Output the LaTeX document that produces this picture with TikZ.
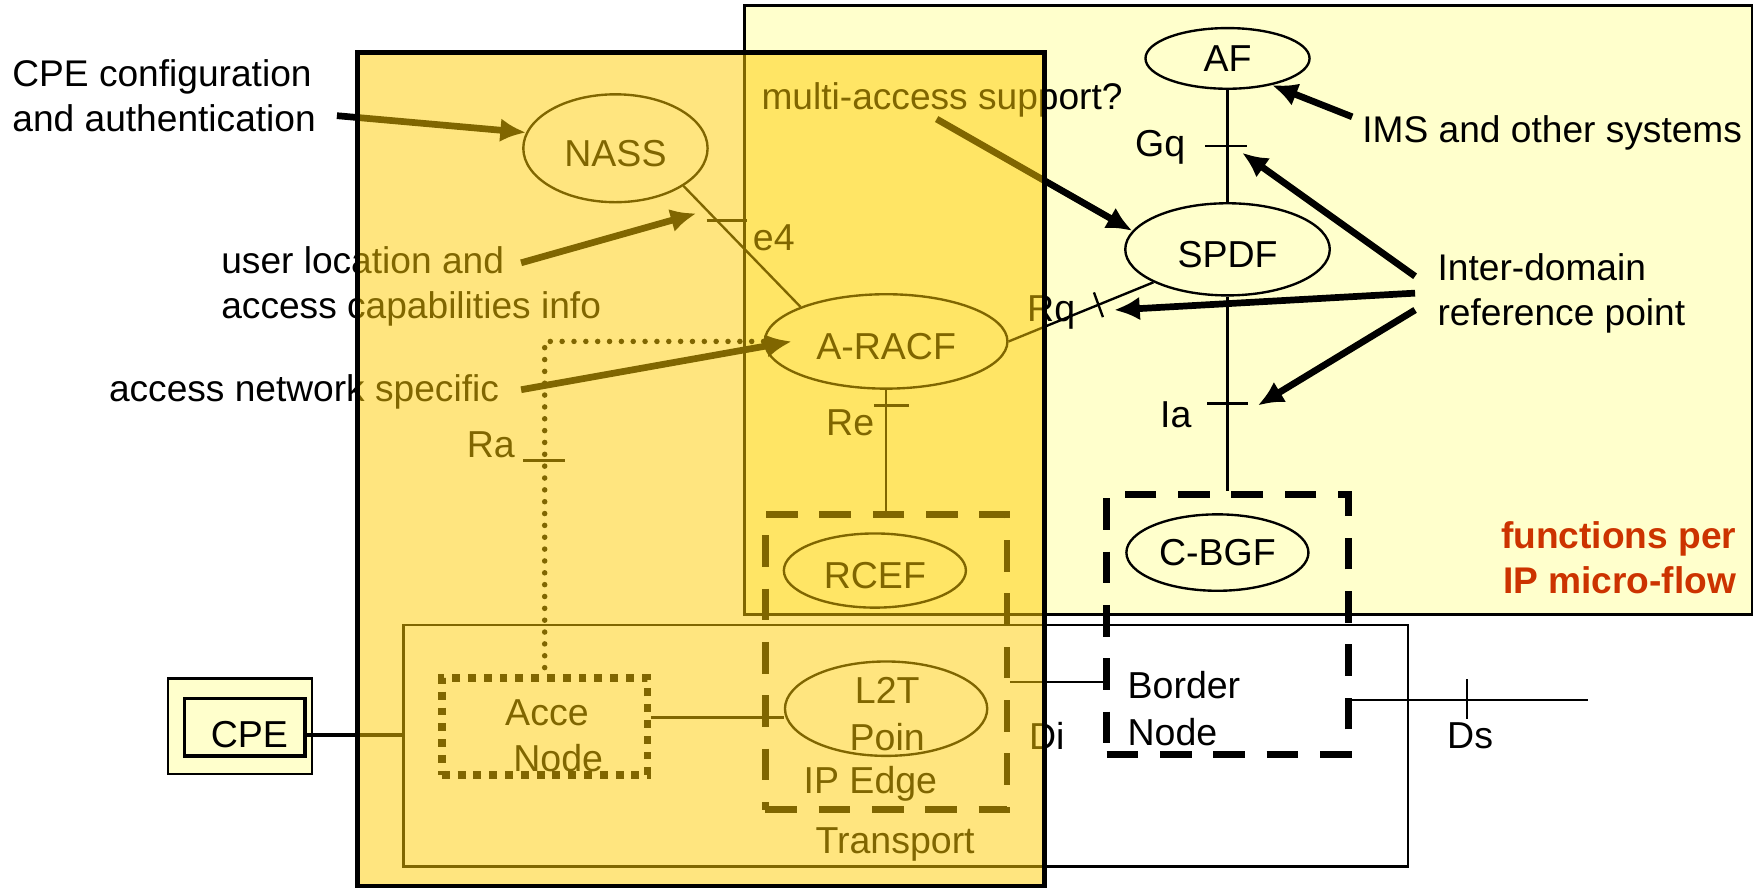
\documentclass[tikz,border=0pt]{standalone}
\usepackage{fontspec}
\setmainfont{Liberation Sans}
\usetikzlibrary{shapes.geometric,arrows.meta}

\definecolor{paleyel}{HTML}{FFFFCC}
\definecolor{ovlyel}{HTML}{FFCC00}
\definecolor{flowred}{HTML}{CC3300}

\tikzset{
	fn/.style={ellipse,draw,line width=0.6pt,inner sep=0pt,font=\fontsize{9.5}{11.8}\selectfont},
	low/.style={text height=0.32cm,text depth=0pt},
	txt/.style={font=\fontsize{9.4}{11.4}\selectfont,inner sep=0pt,align=left},
	lbl/.style={font=\fontsize{9.5}{11.8}\selectfont,inner sep=0pt,align=left},
	dashbox/.style={draw,line width=1.7pt,dash pattern=on 8pt off 5.5pt,inner sep=0pt},
	dotbox/.style={draw,line width=2pt,dash pattern=on 2pt off 2pt,inner sep=0pt},
	dotline/.style={line width=1.4pt,dash pattern=on 0pt off 3pt,line cap=round}
}

\begin{document}
\begin{tikzpicture}[x=0.01cm,y=-0.01cm,line width=0.6pt]
	\useasboundingbox (0,0) rectangle (1568,790);

	\draw[fill=paleyel] (663,5) rectangle (1560,547);
	\node[draw,inner sep=0pt,minimum width=8.94cm,minimum height=2.15cm] (transport) at (806.5,664) {};

	\node[draw,fill=paleyel,inner sep=0pt,minimum width=1.28cm,minimum height=0.85cm] (cpeout) at (213.5,646.5) {};
	\node[draw,line width=0.9pt,inner sep=0pt,minimum width=1.07cm,minimum height=0.51cm] (cpe) at (218,647.5) {};
	\node[lbl] (cpetxt) at (222,654) {CPE};

	\node[fn,minimum width=1.46cm,minimum height=0.54cm] (af) at (1093,52) {AF};
	\node[fn,low,minimum width=1.82cm,minimum height=0.82cm] (spdf) at (1093,222) {SPDF};
	\node[fn,low,minimum width=1.64cm,minimum height=0.96cm] (nass) at (548,132) {NASS};
	\node[fn,low,minimum width=2.16cm,minimum height=0.84cm] (aracf) at (789,304) {A-RACF};
	\node[fn,low,minimum width=1.62cm,minimum height=0.66cm] (rcef) at (779,508) {RCEF};
	\node[fn,minimum width=1.80cm,minimum height=0.84cm] (l2t) at (789,631) {};
	\node[lbl,align=center] (l2ttxt) at (790,636) {L2T\\Poin};
	\node[fn,minimum width=1.62cm,minimum height=0.68cm] (cbgf) at (1084,492) {C-BGF};

	\node[dotbox,minimum width=1.83cm,minimum height=0.86cm] (accbox) at (485,647) {};
	\node[lbl,align=center] (acctxt) at (487,655) {Acce\\\hspace*{0.2cm}Node};
	\node[dashbox,minimum width=2.15cm,minimum height=2.63cm] (edgebox) at (789,589.5) {};
	\node[lbl] (edgetxt) at (775,698) {IP Edge};
	\node[dashbox,minimum width=2.15cm,minimum height=2.31cm] (borderbox) at (1093,556) {};
	\node[lbl,anchor=west] (bordertxt) at (1003,631) {Border\\Node};
	\node[lbl] (transtxt) at (797,752) {Transport};

	\draw (af) -- coordinate[pos=0.5] (gq) (spdf);
	\draw (gq) +(-20,0) -- +(17,0);
	\node[lbl] (gqt) at (1033,131) {Gq};

	\draw (spdf.south) -- coordinate[pos=0.55] (ia) (spdf.south |- borderbox.north);
	\draw (ia) +(-18,0) -- +(18,0);
	\node[lbl] (iat) at (1047,369) {Ia};

	\draw (aracf.east) -- coordinate[pos=0.62] (rq) (spdf.204);
	\draw (rq) +(-4,-11) -- +(4,11);
	\node[lbl] (rqt) at (936,278) {Rq};

	\draw (nass.-29) -- coordinate[pos=0.285] (e4) (aracf.158);
	\draw (e4) +(-9,0) -- +(27,0);
	\node[lbl] (e4t) at (689,212) {e4};

	\draw (aracf.south) -- coordinate[pos=0.13] (re) (aracf.south |- edgebox.north);
	\draw (re) +(-11,0) -- +(20,0);
	\node[lbl] (ret) at (757,376) {Re};

	\draw[dotline] (aracf.west) -| (accbox.north);
	\coordinate (ra) at (485,410);
	\draw (ra) +(-19,0) -- +(18,0);
	\node[lbl] (rat) at (437,396) {Ra};

	\draw ([yshift=0.08cm]accbox.east) -- ([yshift=0.08cm]accbox.east -| l2t.west);
	\draw[line width=0.9pt] ([yshift=-0.07cm]cpe.east) -- ([yshift=-0.07cm]cpe.east -| transport.west);

	\coordinate (di) at (930,607);
	\draw (edgebox.east |- di) -- (borderbox.west |- di);
	\draw (di) +(0,-15) -- +(0,15);
	\node[lbl] (dit) at (932,655) {Di};

	\coordinate (ds) at (1306,623);
	\coordinate (dsend) at (1414,623);
	\draw (borderbox.east |- ds) -- (dsend);
	\draw (ds) +(0,-18) -- +(0,17);
	\node[lbl] (dst) at (1309,655) {Ds};

	\node[txt,anchor=west] (cfgtxt) at (10,85) {CPE configuration\\and authentication};
	\node[txt,anchor=west] (loctxt) at (196,255) {user location and\\access capabilities info};
	\node[txt,anchor=west] (anstxt) at (96,349) {access network specific};
	\node[txt,anchor=west] (matxt) at (677,89) {multi-access support?};
	\node[txt,anchor=west] (imstxt) at (1212,118) {IMS and other systems};
	\node[txt,anchor=west] (idtxt) at (1279,261) {Inter-domain\\reference point};
	\node[txt,anchor=east,align=right,font=\fontsize{9.4}{11.4}\selectfont\bfseries,text=flowred] (flowtxt) at (1547,497) {functions per\\IP micro-flow};

	\coordinate (cfgfrom) at (300,103);
	\coordinate (locfrom) at (464,234);
	\coordinate (locto) at (620,190);
	\coordinate (ansfrom) at (464,347);
	\coordinate (ansto) at (705,304);
	\coordinate (mafrom) at (834,106);
	\coordinate (imsfrom) at (1204,104);
	\coordinate (idfromA) at (1260,246);
	\coordinate (idtoA) at (1106,136);
	\coordinate (idfromB) at (1260,261);
	\coordinate (idtoB) at (992,276);
	\coordinate (idfromC) at (1260,276);
	\coordinate (idtoC) at (1120,361);
	\begin{scope}[->,>={Latex[length=6.5pt,width=6pt]},line width=1.7pt]
		\draw (cfgfrom) -- (nass.170);
		\draw (locfrom) -- (locto);
		\draw (ansfrom) -- (ansto);
		\draw (mafrom) -- (spdf.169);
		\draw (imsfrom) -- (af.-31);
		\draw (idfromA) -- (idtoA);
		\draw (idfromB) -- (idtoB);
		\draw (idfromC) -- (idtoC);
	\end{scope}

	\fill[ovlyel,fill opacity=0.5] (318,47) rectangle (930,789);
	\draw[line width=1.2pt] (318,47) rectangle (930,789);
\end{tikzpicture}
\end{document}
